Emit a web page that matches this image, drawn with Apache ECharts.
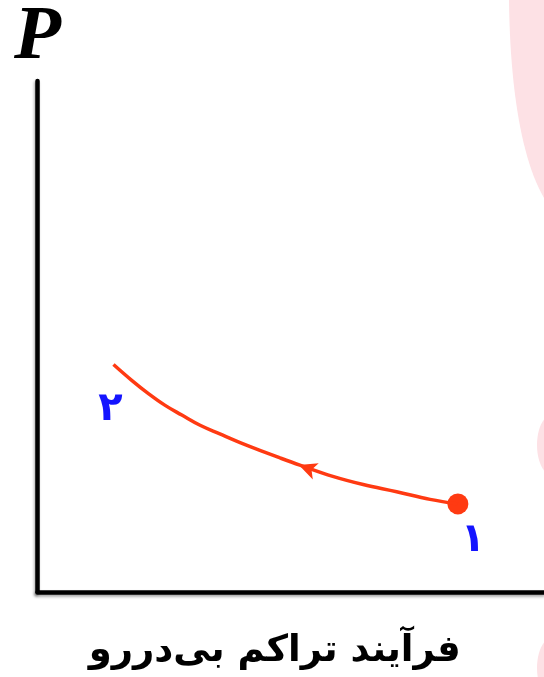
<!DOCTYPE html>
<html>
<head>
<meta charset="utf-8">
<script src="https://cdn.jsdelivr.net/npm/echarts@6/dist/echarts.min.js"></script>
<style>html,body{margin:0;padding:0;background:#fff;}#c{width:544px;height:677px;}</style>
</head>
<body>
<div id="c"></div>
<script>
// Curve of the adiabatic compression process (volume, pressure)
const volume   = [1.50, 1.86, 2.19, 2.52, 2.85, 3.21, 3.60, 4.00, 4.39, 4.79, 5.18, 5.83, 6.43, 7.09, 7.75, 8.30];
const pressure = [4.45, 4.14, 3.88, 3.65, 3.46, 3.26, 3.09, 2.92, 2.77, 2.62, 2.48, 2.26, 2.10, 1.96, 1.81, 1.72];
// State points
const stateLabels = ['۲', '۱'];
const stateVolume = [1.50, 8.30];
const stateP = [4.45, 1.72];
// Direction arrow location on the curve
const arrowPoint = [5.16, 2.48];
const xTitle = 'فرآیند تراکم بی‌دررو';
const yTitle = 'P';

const red = '#ff3a12';
const pink = '#fde1e5';

// background decoration outline (top-right pink shape)
function bez(p0, p1, p2, p3, n) {
  const pts = [];
  for (let k = 0; k <= n; k++) {
    const t = k / n, u = 1 - t;
    pts.push([
      u*u*u*p0[0] + 3*u*u*t*p1[0] + 3*u*t*t*p2[0] + t*t*t*p3[0],
      u*u*u*p0[1] + 3*u*u*t*p1[1] + 3*u*t*t*p2[1] + t*t*t*p3[1]
    ]);
  }
  return pts;
}
const decoPts = [[509, 0], [544, 0]].concat(bez([544, 198], [522, 160], [510, 90], [509, 0], 24));

const chart = echarts.init(document.getElementById('c'), null, {renderer: 'canvas'});
const axisLine = {show: true, lineStyle: {color: '#000', width: 4.5, shadowColor: 'rgba(0,0,0,0.35)', shadowBlur: 3, shadowOffsetX: -1, shadowOffsetY: 2}};
chart.setOption({
  animation: false,
  backgroundColor: '#fff',
  graphic: [
    {type: 'polygon', z: -10, silent: true, shape: {points: decoPts}, style: {fill: pink}},
    {type: 'ellipse', z: -10, silent: true, shape: {cx: 552, cy: 445, rx: 15, ry: 30}, style: {fill: pink}},
    {type: 'ellipse', z: -10, silent: true, shape: {cx: 552, cy: 668, rx: 15, ry: 30}, style: {fill: pink}}
  ],
  grid: {left: 37.5, right: 0, top: 76, bottom: 85.2, containLabel: false},
  xAxis: {
    type: 'value', min: 0, max: 10,
    axisLine: axisLine, axisTick: {show: false}, axisLabel: {show: false}, splitLine: {show: false},
    name: xTitle, nameLocation: 'middle', nameGap: 41,
    nameTextStyle: {fontFamily: 'DejaVu Sans', fontWeight: 'bold', fontSize: 37, color: '#000', padding: [0, 32, 0, 0]}
  },
  yAxis: {
    type: 'value', min: 0, max: 10,
    axisLine: axisLine, axisTick: {show: false}, axisLabel: {show: false}, splitLine: {show: false},
    name: yTitle, nameLocation: 'end', nameGap: 4,
    nameTextStyle: {fontFamily: 'Liberation Serif', fontWeight: 'bold', fontStyle: 'italic', fontSize: 77, color: '#000', align: 'center', padding: [0, 0, 0, 0]}
  },
  series: [
    {
      type: 'line', smooth: 0.4, showSymbol: false, silent: true,
      data: volume.map((v, i) => [v, pressure[i]]),
      lineStyle: {color: red, width: 3.5}
    },
    {
      type: 'scatter', silent: true,
      data: [arrowPoint],
      symbol: 'arrow', symbolSize: [13, 18], symbolRotate: 70,
      itemStyle: {color: red, opacity: 1}
    },
    {
      type: 'scatter', silent: true,
      data: stateVolume.map((v, i) => ({value: [v, stateP[i]], name: stateLabels[i],
        symbolSize: i === 1 ? 21 : 0,
        label: {offset: i === 0 ? [-3, 45] : [15, 37]}})),
      itemStyle: {color: red, opacity: 1},
      label: {show: true, position: 'inside', formatter: p => p.name, color: '#1414ff', fontFamily: 'DejaVu Sans', fontWeight: 'bold', fontSize: 40}
    }
  ]
});
</script>
</body>
</html>
